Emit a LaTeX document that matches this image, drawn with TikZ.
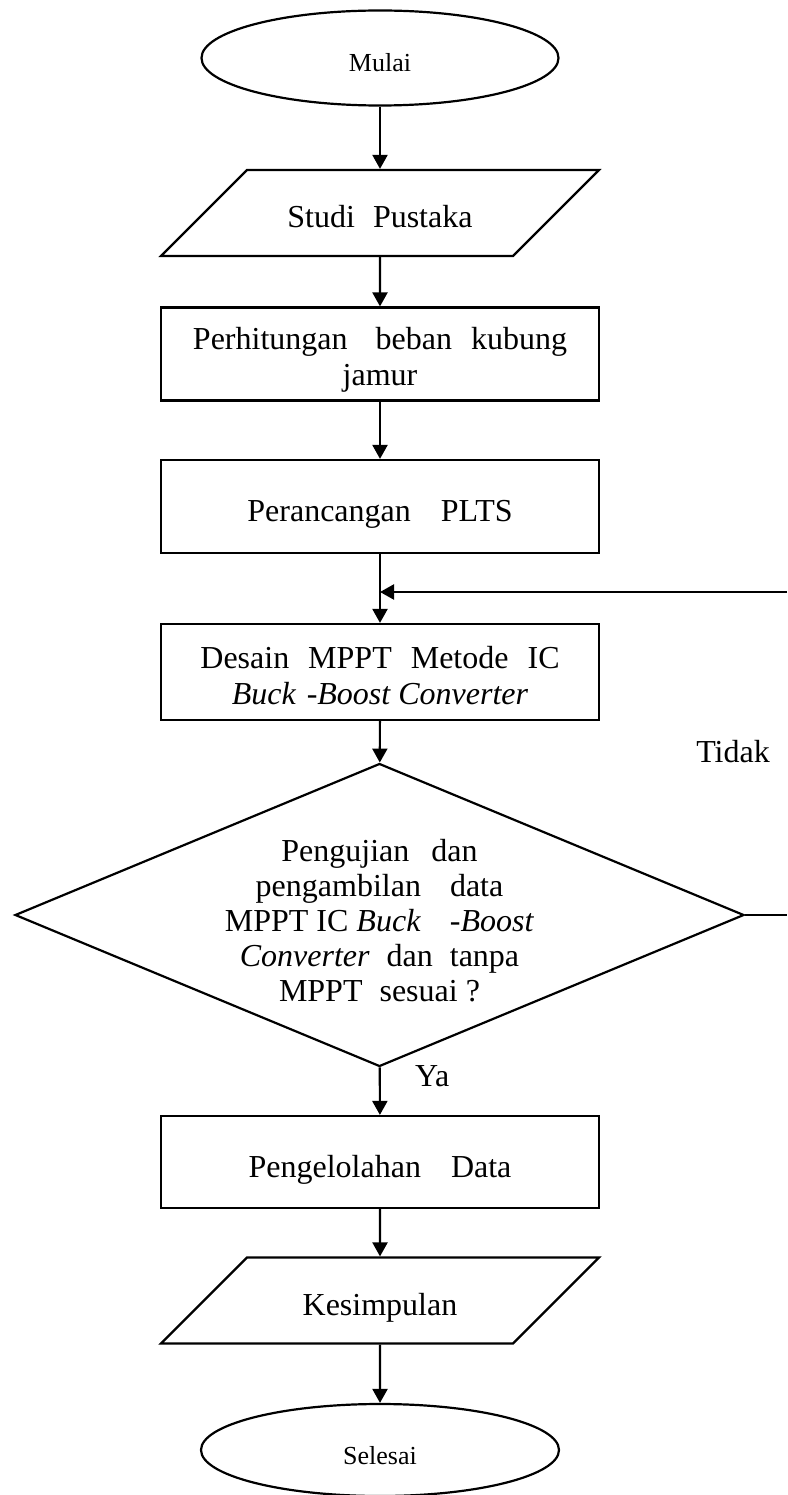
\documentclass[tikz,border=0pt]{standalone}
\usepackage{fontspec}
\setmainfont{Liberation Serif}
\usepackage{tikz}
\usetikzlibrary{arrows.meta,shapes.geometric}
\newcommand{\bigtxt}{\fontsize{32}{36}\selectfont}
\newcommand{\smalltxt}{\fontsize{26}{30}\selectfont}
\tikzset{
  term/.style={ellipse, draw=black, line width=2.2pt, inner sep=0pt, minimum width=357pt, minimum height=95pt, text height=35pt, text depth=7pt, font=\smalltxt},
  io/.style={trapezium, trapezium left angle=45, trapezium right angle=135, trapezium stretches body=true, draw=black, line width=2.2pt, inner ysep=21pt, text height=37pt, text depth=7pt, minimum width=438pt, minimum height=86pt, font=\bigtxt},
  proc/.style={rectangle, draw=black, line width=2.2pt, minimum width=438pt, minimum height=93pt, text height=37pt, text depth=7pt, align=center, font=\bigtxt},
  decide/.style={diamond, aspect=2.4, draw=black, line width=2.2pt, inner sep=0pt, minimum width=729pt, minimum height=303pt, text height=172pt, text depth=0pt, align=center, font=\fontsize{32}{35}\selectfont},
  edge/.style={-{Triangle[length=14pt,width=15pt]}, line width=2.2pt, draw=black},
  link/.style={line width=2.2pt, draw=black},
  lbl/.style={inner sep=0pt, font=\bigtxt}
}

\begin{document}
\begin{tikzpicture}[x=1pt, y=-1pt]
  \useasboundingbox (0,0) rectangle (787,1495);

  % Main flow
  \node[term] (mulai) at (380,58) {Mulai};
  \node[io] (studi) at (380,213) {Studi\hspace{18pt}Pustaka};
  \node[proc, text height=69pt, text depth=7pt] (hitung) at (380,354) {Perhitungan\hspace{28pt}beban\hspace{19pt}kubung\\jamur};
  \node[proc] (plts) at (380,506.5) {Perancangan\hspace{30pt}PLTS};
  \node[proc, minimum height=96pt, text height=71pt, text depth=7pt] (desain) at (380,672) {Desain\hspace{19pt}MPPT\hspace{19pt}Metode\hspace{19pt}IC\\\textit{Buck\hspace{11pt}-Boost Converter}};
  \node[decide] (uji) at (379.5,915) {Pengujian\hspace{22pt}dan\\pengambilan\hspace{29pt}data\\MPPT IC \textit{Buck}\hspace{29pt}\textit{-Boost}\\\textit{Converter}\hspace{17pt}dan\hspace{17pt}tanpa\\MPPT\hspace{17pt}sesuai ?};
  \node[proc, minimum height=92pt] (olah) at (380,1162) {Pengelolahan\hspace{30pt}Data};
  \node[io] (simpul) at (380,1300.5) {Kesimpulan};
  \node[term, minimum width=358pt, minimum height=92pt] (selesai) at (380,1450) {Selesai};

  % Branch labels
  \node[lbl] (tidak) at (733,752) {Tidak};
  \node[lbl, anchor=base west] (ya) at (415,1086) {Ya};

  % Connectors
  \draw[edge] (mulai) -- (studi);
  \draw[edge] (studi) -- (hitung);
  \draw[edge] (hitung) -- (plts);
  \draw[edge] (plts) -- (desain);
  \draw[edge] (desain) -- (uji);
  \draw[edge] (uji) -- (olah);
  \draw[edge] (olah) -- (simpul);
  \draw[edge] (simpul) -- (selesai);

  % Loop back (runs past the right edge)
  \coordinate (fbout) at (787,915);
  \coordinate (fbin) at (787,592);
  \draw[link] (uji.east) -- (fbout);
  \draw[edge] (fbin) -- (fbin -| desain.north);
\end{tikzpicture}
\end{document}
